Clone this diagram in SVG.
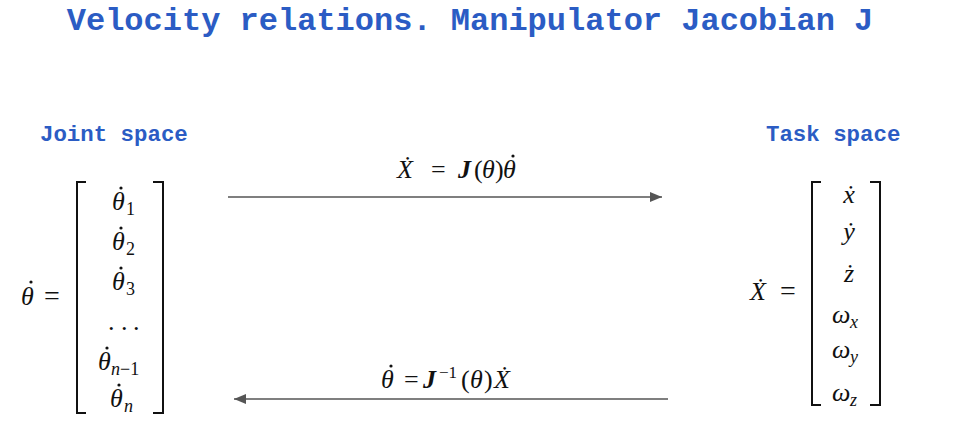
<svg xmlns="http://www.w3.org/2000/svg" width="954" height="446" viewBox="0 0 954 446">
<defs>
<style>
.title{font-family:"Liberation Mono",monospace;font-weight:bold;fill:#2b5cc4;}
.m{font-family:"Liberation Serif",serif;font-size:26px;fill:#111;}
.i{font-style:italic;}
.b{font-weight:bold;}
.sub{font-size:18px;}
.dot{fill:#111;}
.br{fill:none;stroke:#111;stroke-width:2;}
.conn{stroke:#555;stroke-width:1.6;fill:none;}
</style>
<marker id="ah" viewBox="0 0 12 10" refX="12" refY="5" markerWidth="12" markerHeight="10" markerUnits="userSpaceOnUse" orient="auto">
<path d="M0,0 L12,5 L0,10 Z" fill="#555"/>
</marker>
</defs>
<rect width="954" height="446" fill="#fff"/>
<g id="title"><text class="title" x="470" y="30" font-size="32" text-anchor="middle">Velocity relations. Manipulator Jacobian J</text></g>
<g id="joint-label"><text class="title" x="40" y="141" font-size="22.4">Joint space</text></g>
<g id="task-label"><text class="title" x="766" y="141" font-size="22.4">Task space</text></g>
<g id="joint-vector">
<text class="m" y="305"><tspan class="i" x="21">θ</tspan><tspan x="44" font-size="28">=</tspan></text>
<circle class="dot" cx="31" cy="282" r="1.6"/>
<path class="br" d="M86,182 H77 V413 H86"/>
<path class="br" d="M153,182 H163 V413 H153"/>
<text class="m" y="210"><tspan class="i" x="112">θ</tspan><tspan class="sub" x="126" dy="5">1</tspan></text>
<circle class="dot" cx="121" cy="188" r="1.6"/>
<text class="m" y="250"><tspan class="i" x="112">θ</tspan><tspan class="sub" x="126" dy="5">2</tspan></text>
<circle class="dot" cx="121" cy="228" r="1.6"/>
<text class="m" y="290"><tspan class="i" x="112">θ</tspan><tspan class="sub" x="126" dy="5">3</tspan></text>
<circle class="dot" cx="121" cy="268" r="1.6"/>
<text class="m" x="108 121 133" y="330">...</text>
<text class="m" y="370"><tspan class="i" x="98">θ</tspan><tspan class="sub" x="111" dy="5"><tspan class="i">n</tspan>−1</tspan></text>
<circle class="dot" cx="107" cy="348" r="1.6"/>
<text class="m" y="407"><tspan class="i" x="110">θ</tspan><tspan class="sub i" x="124" dy="5">n</tspan></text>
<circle class="dot" cx="119" cy="385" r="1.6"/>
</g>
<g id="task-vector">
<text class="m" y="300"><tspan class="i" x="750">Ẋ</tspan><tspan x="780" font-size="28">=</tspan></text>
<path class="br" d="M821,182 H812 V405 H821"/>
<path class="br" d="M870,182 H880 V405 H870"/>
<text class="m i" x="849" y="203" text-anchor="middle">ẋ</text>
<text class="m i" x="849" y="240" text-anchor="middle">ẏ</text>
<text class="m i" x="849" y="282" text-anchor="middle">ż</text>
<text class="m" y="323"><tspan class="i" x="832">ω</tspan><tspan class="sub i" x="850" dy="5">x</tspan></text>
<text class="m" y="358"><tspan class="i" x="832">ω</tspan><tspan class="sub i" x="850" dy="5">y</tspan></text>
<text class="m" y="401"><tspan class="i" x="832">ω</tspan><tspan class="sub i" x="850" dy="5">z</tspan></text>
</g>
<g id="connectors">
<line class="conn" x1="228" y1="197" x2="662" y2="197" marker-end="url(#ah)"/>
<line class="conn" x1="668" y1="399" x2="234" y2="399" marker-end="url(#ah)"/>
</g>
<g id="forward-label">
<text class="m" y="178"><tspan class="i" x="397">Ẋ</tspan><tspan x="431">=</tspan><tspan class="i b" x="458">J</tspan><tspan x="474">(</tspan><tspan class="i" x="482">θ</tspan><tspan x="495">)</tspan><tspan class="i" x="503">θ</tspan></text>
<circle class="dot" cx="513" cy="156" r="1.6"/>
</g>
<g id="inverse-label">
<text class="m" y="388"><tspan class="i" x="381">θ</tspan><tspan x="404">=</tspan><tspan class="i b" x="423">J</tspan><tspan font-size="17" x="439" y="378">−1</tspan><tspan x="461" y="388">(</tspan><tspan class="i" x="470">θ</tspan><tspan x="484">)</tspan><tspan class="i" x="494">Ẋ</tspan></text>
<circle class="dot" cx="391" cy="366" r="1.6"/>
</g>
</svg>
